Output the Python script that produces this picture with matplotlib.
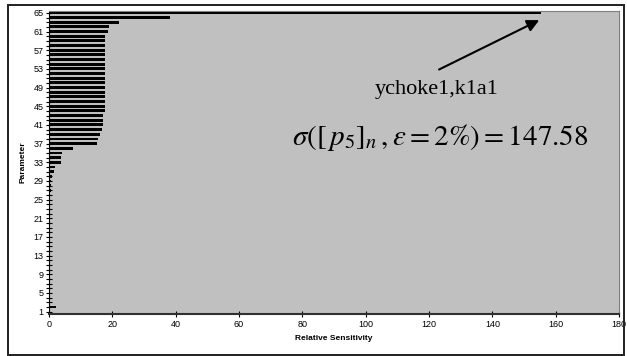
import numpy as np
import matplotlib
matplotlib.use('Agg')
import matplotlib.pyplot as plt
from matplotlib.patches import Rectangle

# parameter index 1..65 and relative sensitivity
params = list(range(1, 66))
sens = [0.0, 2.3] + [0.0] * 19 + [
    0.3, 0.3, 0.35, 0.4, 0.45, 0.5, 0.6, 0.75, 1.1, 1.5, 1.8,   # 22-32
    3.9, 3.9, 4.1, 7.7, 15.3, 15.5, 16.2, 16.6, 16.9, 17.0, 17.1,  # 33-43
    17.6, 17.6, 17.6, 17.6, 17.6, 17.6, 17.6, 17.6,  # 44-51
    17.8, 17.8, 17.8, 17.8, 17.8, 17.8, 17.8, 17.8, 17.8,  # 52-60
    18.6, 18.9, 22.2, 38.3, 155.5]  # 61-65
ytick_labels = list(range(1, 66, 4))
xticks = list(range(0, 181, 20))

plt.rcParams['font.family'] = ['Liberation Sans', 'DejaVu Sans']
plt.rcParams['mathtext.fontset'] = 'stix'

fig = plt.figure(figsize=(6.27, 3.56), dpi=100)
ax = fig.add_axes([49 / 627, 42 / 356, 570 / 627, 303.5 / 356])
ax.set_facecolor('#c0c0c0')

ax.barh(params, sens, height=0.6, color='black')

ax.set_xlim(0, 180)
ax.set_ylim(0.5, 65.5)
ax.set_xticks(xticks)
ax.set_yticks(params, minor=True)
ax.set_yticks(ytick_labels)
ax.tick_params(axis='both', labelsize=6.5, direction='inout', length=4, width=0.8, pad=2)
ax.tick_params(axis='y', which='minor', direction='inout', length=4, width=0.8)

ax.set_xlabel('Relative Sensitivity', fontsize=6, fontweight='bold', labelpad=5)
ax.set_ylabel('Parameter', fontsize=6, fontweight='bold', labelpad=5)

for s in ['top', 'right']:
    ax.spines[s].set_color('#808080')
ax.spines['bottom'].set_linewidth(1.5)
ax.spines['bottom'].set_color('#303030')
ax.spines['left'].set_color('black')

ax.annotate('', xy=(155.6, 63.7), xytext=(122.4, 52.6),
            arrowprops=dict(arrowstyle='-|>', color='black', lw=1.5, mutation_scale=18))
ax.text(122.4, 48.5, 'ychoke1,k1a1', fontsize=16, family='Liberation Serif',
        ha='center', va='center')
ax.text(123.4, 38.2,
        r'$\sigma\left(\left[\,p_5\right]_n\,, \varepsilon = 2\%\right) = 147.58$',
        fontsize=21, ha='center', va='center')

# outer frame around the whole chart
fig.patches.append(Rectangle((8 / 627, 1.5 / 356), 616 / 627, 349.5 / 356,
                             transform=fig.transFigure, fill=False,
                             edgecolor='#202020', lw=1.4))

fig.savefig('out.png', dpi=100)
